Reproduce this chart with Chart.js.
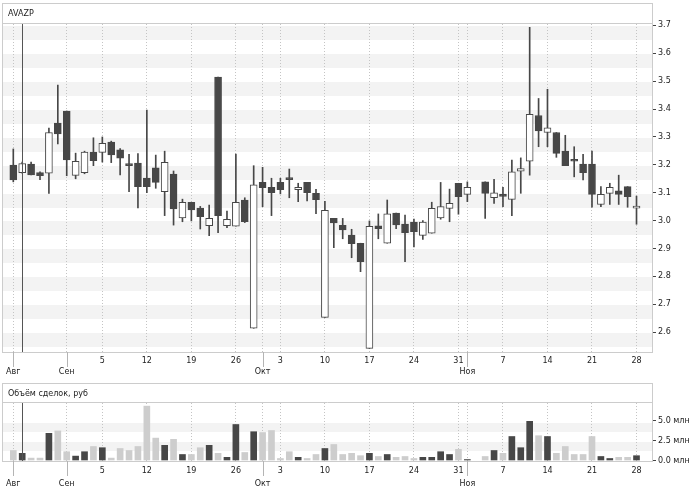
<!DOCTYPE html>
<html>
<head>
<meta charset="utf-8">
<script src="https://cdn.jsdelivr.net/npm/chart.js@4"></script>
<style>
  body { margin: 0; background: #fff; }
  #wrap { position: relative; width: 694px; height: 489px; }
  #priceChart { position: absolute; left: 0; top: 0; }
  #volChart { position: absolute; left: 0; top: 380px; }
</style>
</head>
<body>
<div id="wrap">
  <canvas id="priceChart" width="694" height="380"></canvas>
  <canvas id="volChart" width="694" height="109"></canvas>
</div>
<script>
// AVAZP, дневные свечи 22.08 - 28.11.2014
const dates = [
  '2014-08-22',
  '2014-08-25','2014-08-26','2014-08-27','2014-08-28','2014-08-29',
  '2014-09-01','2014-09-02','2014-09-03','2014-09-04','2014-09-05',
  '2014-09-08','2014-09-09','2014-09-10','2014-09-11','2014-09-12',
  '2014-09-15','2014-09-16','2014-09-17','2014-09-18','2014-09-19',
  '2014-09-22','2014-09-23','2014-09-24','2014-09-25','2014-09-26',
  '2014-09-29','2014-09-30','2014-10-01','2014-10-02','2014-10-03',
  '2014-10-06','2014-10-07','2014-10-08','2014-10-09','2014-10-10',
  '2014-10-13','2014-10-14','2014-10-15','2014-10-16','2014-10-17',
  '2014-10-20','2014-10-21','2014-10-22','2014-10-23','2014-10-24',
  '2014-10-27','2014-10-28','2014-10-29','2014-10-30','2014-10-31',
  '2014-11-03','2014-11-04','2014-11-05','2014-11-06','2014-11-07',
  '2014-11-10','2014-11-11','2014-11-12','2014-11-13','2014-11-14',
  '2014-11-17','2014-11-18','2014-11-19','2014-11-20','2014-11-21',
  '2014-11-24','2014-11-25','2014-11-26','2014-11-27','2014-11-28'
];

const open = [
  3.199, 3.172, 3.203, 3.172, 3.170,
  3.350, 3.393, 3.162, 3.172, 3.246,
  3.245, 3.282, 3.254, 3.198, 3.206,
  3.153, 3.189, 3.104, 3.167, 3.010,
  3.066, 3.045, 2.982, 3.515, 2.982,
  2.980, 3.074, 2.614, 3.137, 3.119,
  3.137, 3.147, 3.111, 3.137, 3.098,
  2.653, 3.008, 2.983, 2.948, 2.919,
  2.542, 2.981, 2.919, 3.027, 2.988,
  2.995, 2.947, 2.955, 3.010, 3.044,
  3.134, 3.094, null, 3.139, 3.082,
  3.095, 3.076, 3.177, 3.213, 3.377,
  3.316, 3.316, 3.249, 3.215, 3.203,
  3.203, 3.058, 3.098, 3.107, 3.122,
  3.045
];
const high = [
  3.257, 3.210, 3.210, 3.175, 3.332,
  3.486, 3.393, 3.242, 3.249, 3.297,
  3.300, 3.285, 3.258, 3.238, 3.240,
  3.396, 3.235, 3.249, 3.178, 3.077,
  3.066, 3.051, 3.056, 3.515, 3.034,
  3.239, 3.082, 3.197, 3.191, 3.152,
  3.152, 3.185, 3.134, 3.137, 3.112,
  3.069, 3.008, 3.008, 2.969, 2.919,
  2.999, 3.024, 3.074, 3.027, 3.020,
  3.006, 3.000, 3.066, 3.137, 3.113,
  3.134, 3.139, null, 3.139, 3.148,
  3.119, 3.217, 3.225, 3.693, 3.438,
  3.471, 3.316, 3.306, 3.265, 3.238,
  3.249, 3.122, 3.134, 3.163, 3.122,
  3.088
];
const low = [
  3.139, 3.170, 3.164, 3.147, 3.098,
  3.275, 3.161, 3.150, 3.168, 3.197,
  3.210, 3.208, 3.164, 3.104, 3.046,
  3.100, 3.116, 3.018, 2.984, 2.996,
  2.999, 2.970, 2.946, 2.957, 2.975,
  2.980, 2.993, 2.614, 3.050, 3.018,
  3.096, 3.082, 3.068, 3.071, 3.025,
  2.653, 2.903, 2.935, 2.867, 2.817,
  2.542, 2.935, 2.919, 2.971, 2.853,
  2.906, 2.933, 2.955, 3.005, 2.996,
  3.023, 3.068, null, 3.008, 3.062,
  3.050, 3.018, 3.098, 3.163, 3.265,
  3.265, 3.227, 3.197, 3.157, 3.146,
  3.048, 3.050, 3.058, 3.058, 3.048,
  2.987
];
const close = [
  3.146, 3.205, 3.164, 3.161, 3.316,
  3.311, 3.218, 3.213, 3.246, 3.215,
  3.277, 3.236, 3.224, 3.197, 3.122,
  3.122, 3.137, 3.209, 3.042, 3.066,
  3.038, 3.014, 3.008, 3.018, 3.005,
  3.066, 2.996, 3.128, 3.118, 3.100,
  3.111, 3.147, 3.119, 3.100, 3.075,
  3.037, 2.992, 2.967, 2.917, 2.853,
  2.980, 2.971, 3.024, 2.985, 2.957,
  2.960, 2.995, 3.044, 3.050, 3.062,
  3.086, 3.119, null, 3.098, 3.100,
  3.087, 3.175, 3.187, 3.381, 3.322,
  3.333, 3.241, 3.197, 3.213, 3.172,
  3.094, 3.094, 3.119, 3.094, 3.086,
  3.047
];
// объём, млн руб
const volume = [
  1.25, 0.9, 0.3, 0.3, 3.4,
  3.7, 1.1, 0.55, 1.1, 1.75,
  1.6, 0.3, 1.5, 1.25, 1.75,
  6.8, 2.8, 1.9, 2.65, 0.75,
  0.75, 1.6, 1.9, 0.9, 0.4,
  4.5, 1.0, 3.6, 3.5, 3.75,
  0.25, 1.1, 0.4, 0.25, 0.75,
  1.5, 2.0, 0.75, 0.9, 0.6,
  0.9, 0.5, 0.75, 0.4, 0.5,
  0.25, 0.4, 0.4, 1.1, 0.75,
  1.4, 0.12, null, 0.5, 1.25,
  0.9, 3.0, 1.6, 4.9, 3.1,
  3.0, 0.9, 1.75, 0.75, 0.75,
  3.0, 0.5, 0.25, 0.4, 0.4,
  0.6
];
const markerIdx = [1];
const priceTicks = [2.6, 2.7, 2.8, 2.9, 3.0, 3.1, 3.2, 3.3, 3.4, 3.5, 3.6, 3.7];
const volTicks = [0, 2.5, 5.0];
const volBands = [[1.22, 2.35], [3.52, 4.65]];
const monthNames = ['Янв','Фев','Мар','Апр','Май','Июн','Июл','Авг','Сен','Окт','Ноя','Дек'];

const DARK = '#474747';
const LIGHT = '#cdcdcd';
const GRID = '#c4c4c4';
const FRAME = '#cccccc';
const X_MIN = -1.157, X_MAX = 71.74;

Chart.defaults.font.family = 'DejaVu Sans';
Chart.defaults.font.size = 8;
Chart.defaults.color = '#222';

// метки оси X: начало месяца и пятницы (в первом неполном месяце только месяц)
const monthTicks = [], weekTicks = [];
dates.forEach((d, i) => {
  const dt = new Date(d + 'T00:00:00');
  const prev = i > 0 ? new Date(dates[i - 1] + 'T00:00:00') : null;
  if (!prev || prev.getMonth() !== dt.getMonth()) monthTicks.push(i);
  else if (dt.getDay() === 5 && monthTicks.length > 1) weekTicks.push(i);
});
const allTicks = monthTicks.concat(weekTicks).sort((a, b) => a - b);

function tickLabel(v) {
  const dt = new Date(dates[v] + 'T00:00:00');
  if (monthTicks.includes(v)) return ['', monthNames[dt.getMonth()]];
  return String(dt.getDate());
}

function xAxis(lineH) {
  return {
    type: 'linear', min: X_MIN, max: X_MAX, offset: false,
    afterBuildTicks: s => { s.ticks = allTicks.map(v => ({ value: v })); },
    afterFit: s => { s.height = 28; },
    grid: { color: GRID, drawTicks: false, offset: false },
    border: { display: false, dash: [1, 2] },
    ticks: { autoSkip: false, maxRotation: 0, padding: 3, font: { lineHeight: lineH }, callback: v => tickLabel(v) }
  };
}

// рамка панели, заголовок, метки месяцев, вертикальная линия
function panelPlugin(title, frameTop) {
  return {
    id: 'panel',
    afterDraw(chart) {
      const { ctx, chartArea: ca, scales } = chart;
      ctx.save();
      ctx.strokeStyle = FRAME;
      ctx.lineWidth = 1;
      ctx.strokeRect(2.5, frameTop + 0.5, ca.right - 2, ca.bottom - frameTop);
      ctx.beginPath();
      ctx.moveTo(2.5, ca.top - 0.5);
      ctx.lineTo(ca.right + 0.5, ca.top - 0.5);
      ctx.stroke();
      ctx.strokeStyle = '#b4b4b4';
      monthTicks.forEach(i => {
        const x = Math.round(scales.x.getPixelForValue(i)) + 0.5;
        ctx.beginPath();
        ctx.moveTo(x, ca.bottom);
        ctx.lineTo(x, ca.bottom + 15);
        ctx.stroke();
      });
      ctx.strokeStyle = '#555';
      markerIdx.forEach(i => {
        const x = Math.round(scales.x.getPixelForValue(i)) + 0.5;
        ctx.beginPath();
        ctx.moveTo(x, ca.top);
        ctx.lineTo(x, ca.bottom);
        ctx.stroke();
      });
      ctx.fillStyle = '#222';
      ctx.font = '8px "DejaVu Sans"';
      ctx.textBaseline = 'middle';
      ctx.fillText(title, 8, (frameTop + ca.top) / 2 + 0.5);
      ctx.restore();
    }
  };
}

function bandPlugin(bands) {
  return {
    id: 'bands',
    beforeDraw(chart) {
      const { ctx, chartArea: ca, scales } = chart;
      ctx.save();
      ctx.fillStyle = '#f3f3f3';
      bands.forEach(([a, b]) => {
        const y1 = Math.round(scales.y.getPixelForValue(b));
        const y2 = Math.round(scales.y.getPixelForValue(a));
        ctx.fillRect(ca.left, y1, ca.right - ca.left, y2 - y1);
      });
      ctx.restore();
    }
  };
}

const wicks = [], bodies = [], vols = [];
dates.forEach((d, i) => {
  if (open[i] == null) return;
  const up = close[i] > open[i];
  wicks.push({ x: i, y: [low[i], high[i]] });
  bodies.push({ x: i, y: [open[i], close[i]], up });
  vols.push({ x: i, y: volume[i], up });
});

// ===== Цена =====
new Chart(document.getElementById('priceChart'), {
  type: 'bar',
  data: {
    datasets: [
      {
        label: 'body', data: bodies, order: 0, grouped: false,
        barThickness: 7, minBarLength: 2, borderWidth: 1, borderSkipped: false,
        borderColor: DARK,
        backgroundColor: c => (c.raw && c.raw.up ? '#fff' : DARK)
      },
      {
        label: 'wick', data: wicks, order: 1, grouped: false,
        barThickness: 1, backgroundColor: DARK
      }
    ]
  },
  options: {
    responsive: false, animation: false,
    layout: { padding: { left: 3, top: 24, right: 0, bottom: 0 } },
    plugins: { legend: { display: false }, tooltip: { enabled: false } },
    scales: {
      x: xAxis('11px'),
      y: {
        position: 'right', min: 2.529, max: 3.705,
        afterBuildTicks: s => { s.ticks = priceTicks.map(v => ({ value: v })); },
        afterFit: s => { s.width = 42; },
        grid: { drawOnChartArea: false, tickLength: 4, tickColor: '#444' },
        border: { display: false },
        ticks: { padding: 2, callback: v => v.toFixed(1) }
      }
    }
  },
  plugins: [bandPlugin(priceTicks.map(t => [t - 0.053, t - 0.003])), panelPlugin('AVAZP', 3)]
});

// ===== Объём =====
new Chart(document.getElementById('volChart'), {
  type: 'bar',
  data: {
    datasets: [{
      label: 'volume', data: vols, barThickness: 6,
      backgroundColor: c => (c.raw && c.raw.up ? DARK : LIGHT)
    }]
  },
  options: {
    responsive: false, animation: false,
    layout: { padding: { left: 3, top: 23, right: 0, bottom: 0 } },
    plugins: { legend: { display: false }, tooltip: { enabled: false } },
    scales: {
      x: xAxis('13px'),
      y: {
        position: 'right', min: -0.0625, max: 7.19,
        afterBuildTicks: s => { s.ticks = volTicks.map(v => ({ value: v })); },
        afterFit: s => { s.width = 42; },
        grid: { drawOnChartArea: false, tickLength: 4, tickColor: '#444' },
        border: { display: false },
        ticks: { padding: 2, callback: v => v.toFixed(1) + ' млн' }
      }
    }
  },
  plugins: [bandPlugin(volBands), panelPlugin('Объём сделок, руб', 3)]
});
</script>
</body>
</html>
